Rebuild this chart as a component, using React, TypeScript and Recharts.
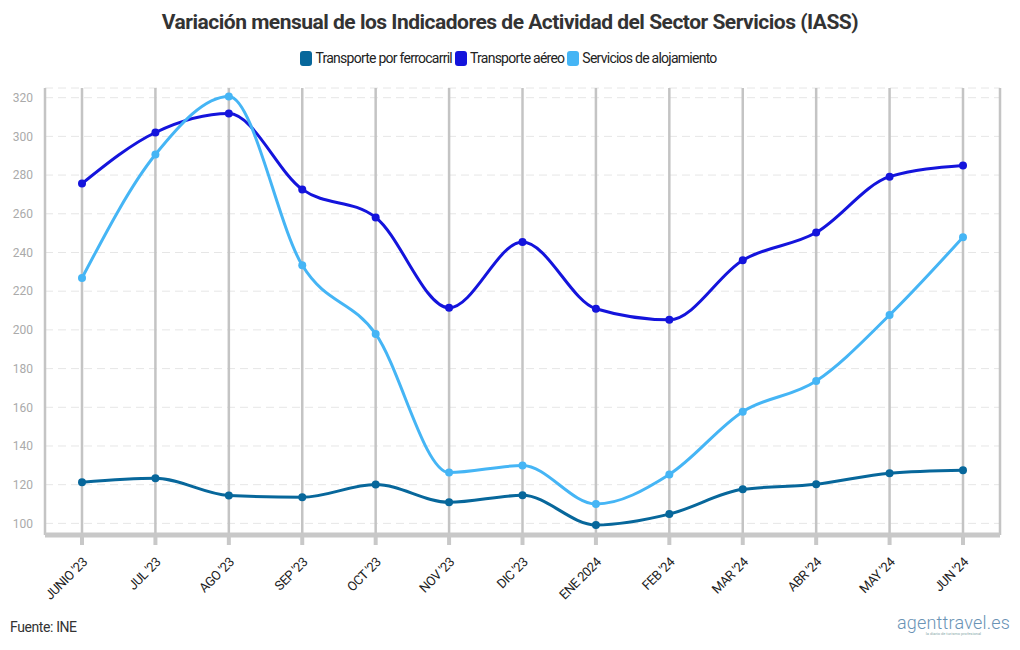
import { LineChart, Line, XAxis, YAxis, CartesianGrid } from "recharts";

const months = ["JUNIO '23", "JUL '23", "AGO '23", "SEP '23", "OCT '23", "NOV '23", "DIC '23", "ENE 2024", "FEB '24", "MAR '24", "ABR '24", "MAY '24", "JUN '24"];
const ferrocarril = [121.2, 123.3, 114.4, 113.5, 120.1, 110.9, 114.5, 99.2, 104.8, 117.6, 120.2, 125.9, 127.4];
const aereo = [275.6, 302.0, 311.8, 272.6, 258.1, 211.4, 245.4, 210.9, 205.2, 236.0, 250.3, 279.2, 285.0];
const alojamiento = [226.8, 290.6, 320.6, 233.4, 197.9, 126.3, 129.9, 110.0, 125.3, 157.7, 173.6, 207.7, 247.9];
const yTicks = [100, 120, 140, 160, 180, 200, 220, 240, 260, 280, 300, 320];

const series = [
  { key: "ferrocarril", name: "Transporte por ferrocarril", color: "#07679b" },
  { key: "aereo", name: "Transporte aéreo", color: "#1414dc" },
  { key: "alojamiento", name: "Servicios de alojamiento", color: "#45b5f5" },
];

const data = months.map((m, i) => ({
  month: m,
  ferrocarril: ferrocarril[i],
  aereo: aereo[i],
  alojamiento: alojamiento[i],
}));

const FONT = "Roboto, sans-serif";

function MonthTick(props: any) {
  const { x, y, payload } = props;
  return (
    <text
      x={x + 6}
      y={y + 16}
      transform={`rotate(-45, ${x + 6}, ${y + 16})`}
      textAnchor="end"
      fontSize={13}
      fill="#222"
      fontFamily={FONT}
      letterSpacing={-0.5}
    >
      {payload.value}
    </text>
  );
}

export default function App() {
  return (
    <div style={{ position: "absolute", left: 0, top: 0, width: 1020, height: 650, background: "#fff", fontFamily: FONT }}>
      <div style={{ position: "absolute", top: 10, left: 0, width: 1020, textAlign: "center", fontSize: 21, fontWeight: 700, color: "#333", letterSpacing: -0.5 }}>
        Variación mensual de los Indicadores de Actividad del Sector Servicios (IASS)
      </div>
      <div style={{ position: "absolute", top: 50, left: 0, width: 1020, display: "flex", justifyContent: "center", fontSize: 14, color: "#222", letterSpacing: -0.75 }}>
        {series.map((s) => (
          <div key={s.key} style={{ display: "flex", alignItems: "center", marginRight: 3 }}>
            <span style={{ display: "inline-block", width: 12, height: 15, borderRadius: 3, background: s.color, marginRight: 3 }} />
            <span>{s.name}</span>
          </div>
        ))}
      </div>
      <LineChart width={1020} height={650} data={data} margin={{ top: 88, right: 20, bottom: 55, left: 5 }}>
        <CartesianGrid horizontal={true} vertical={false} stroke="#e6e6e6" strokeDasharray="8 5" />
        <CartesianGrid horizontal={false} vertical={true} stroke="#c4c4c4" strokeWidth={2.5} />
        <XAxis
          dataKey="month"
          padding={{ left: 37, right: 37 }}
          axisLine={{ stroke: "#c8c8c8", strokeWidth: 5 }}
          tickLine={{ stroke: "#c8c8c8", strokeWidth: 4 }}
          tickSize={10}
          interval={0}
          tick={<MonthTick />}
          height={60}
        />
        <YAxis
          domain={[94, 325]}
          ticks={yTicks}
          width={40}
          axisLine={false}
          tickLine={false}
          tickMargin={6}
          tick={{ fontSize: 12, fill: "#aaa", fontFamily: FONT }}
        />
        {series.map((s) => (
          <Line
            key={s.key}
            type="monotone"
            dataKey={s.key}
            name={s.name}
            stroke={s.color}
            strokeWidth={3}
            dot={{ r: 4, fill: s.color, stroke: s.color, strokeWidth: 0 }}
            isAnimationActive={false}
          />
        ))}
      </LineChart>
      <div style={{ position: "absolute", left: 10, top: 619, fontSize: 14, color: "#333", letterSpacing: -0.4 }}>Fuente: INE</div>
      <div style={{ position: "absolute", right: 10, top: 612, textAlign: "center", color: "#6a93b5" }}>
        <div style={{ fontSize: 18, fontWeight: 300, letterSpacing: 0.2 }}>agenttravel.es</div>
        <div style={{ fontSize: 4, color: "#8aa", marginTop: -2 }}>la diario de turismo profesional</div>
      </div>
    </div>
  );
}
